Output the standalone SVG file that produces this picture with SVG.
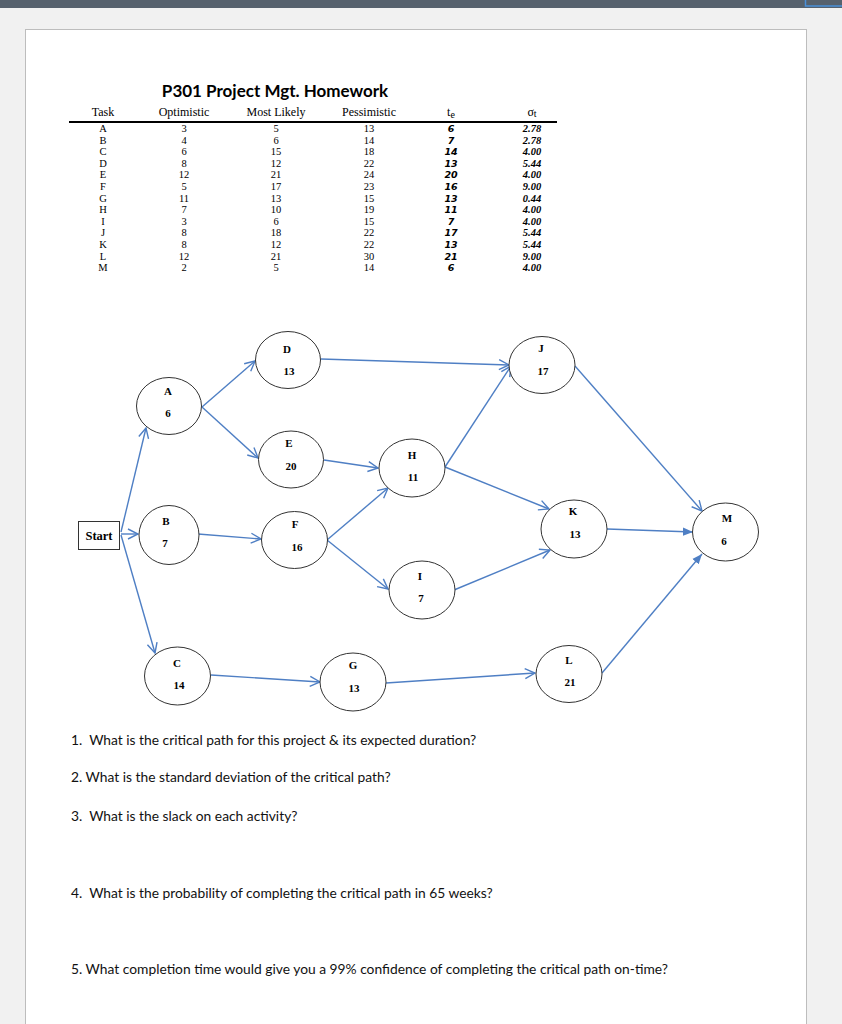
<svg xmlns="http://www.w3.org/2000/svg" width="842" height="1024" viewBox="0 0 842 1024">
<style>
.th{font-family:"Liberation Serif",serif;font-size:12px;fill:#000;text-anchor:middle}
.td{font-family:"Liberation Serif",serif;font-size:10.5px;fill:#000;text-anchor:middle}
.te{font-family:"DejaVu Sans",sans-serif;font-size:9.5px;font-weight:bold;font-style:italic;fill:#000;text-anchor:middle}
.sg{font-family:"Liberation Serif",serif;font-size:10.5px;font-weight:bold;font-style:italic;fill:#000;text-anchor:middle}
.nd{fill:#fff;stroke:#333;stroke-width:1}
.lb{font-family:"Liberation Serif",serif;font-size:11px;font-weight:bold;fill:#000;text-anchor:middle}
.cn{fill:none;stroke:#4f7fc4;stroke-width:1.4}
.q{font-family:Lato,"Open Sans",sans-serif;font-size:13.8px;fill:#111}
</style>
<defs>
<marker id="open" viewBox="0 0 12 12" refX="11" refY="6" markerWidth="12" markerHeight="12" markerUnits="userSpaceOnUse" orient="auto">
<path d="M1,1 L11,6 L1,11" fill="none" stroke="#4f7fc4" stroke-width="1.4"/>
</marker>
<marker id="fill" viewBox="0 0 12 12" refX="11" refY="6" markerWidth="11" markerHeight="11" markerUnits="userSpaceOnUse" orient="auto">
<path d="M0,1.5 L11,6 L0,10.5 Z" fill="#4f7fc4"/>
</marker>
</defs>
<rect x="0" y="0" width="842" height="1024" fill="#f1f1f1"/>
<rect x="0" y="0" width="842" height="8" fill="#56616d"/>
<rect x="805.5" y="-1" width="40" height="7" fill="none" stroke="#4a90d9" stroke-width="1.5"/>
<rect x="25.5" y="29.5" width="781" height="1000" fill="#fff" stroke="#bdbdbd" stroke-width="1"/>

<g id="table">
<text x="275" y="97" font-family="Lato,'Open Sans',sans-serif" font-size="17" font-weight="bold" text-anchor="middle" fill="#000">P301 Project Mgt. Homework</text>
<text class="th" x="103" y="116">Task</text>
<text class="th" x="184" y="116">Optimistic</text>
<text class="th" x="276" y="116">Most Likely</text>
<text class="th" x="369" y="116">Pessimistic</text>
<text class="th" x="451" y="116" font-size="14">t<tspan font-size="10" dy="2">e</tspan></text>
<text class="th" x="532" y="116" font-size="14">σ<tspan font-size="10" dy="1">t</tspan></text>
<line x1="69" y1="122" x2="557" y2="122" stroke="#000" stroke-width="2"/>
<g>
<text class="td" x="103" y="132">A</text><text class="td" x="184" y="132">3</text><text class="td" x="276" y="132">5</text><text class="td" x="369" y="132">13</text><text class="te" x="451" y="132">6</text><text class="sg" x="532" y="132">2.78</text>
<text class="td" x="103" y="143.6">B</text><text class="td" x="184" y="143.6">4</text><text class="td" x="276" y="143.6">6</text><text class="td" x="369" y="143.6">14</text><text class="te" x="451" y="143.6">7</text><text class="sg" x="532" y="143.6">2.78</text>
<text class="td" x="103" y="155.2">C</text><text class="td" x="184" y="155.2">6</text><text class="td" x="276" y="155.2">15</text><text class="td" x="369" y="155.2">18</text><text class="te" x="451" y="155.2">14</text><text class="sg" x="532" y="155.2">4.00</text>
<text class="td" x="103" y="166.8">D</text><text class="td" x="184" y="166.8">8</text><text class="td" x="276" y="166.8">12</text><text class="td" x="369" y="166.8">22</text><text class="te" x="451" y="166.8">13</text><text class="sg" x="532" y="166.8">5.44</text>
<text class="td" x="103" y="178.4">E</text><text class="td" x="184" y="178.4">12</text><text class="td" x="276" y="178.4">21</text><text class="td" x="369" y="178.4">24</text><text class="te" x="451" y="178.4">20</text><text class="sg" x="532" y="178.4">4.00</text>
<text class="td" x="103" y="190">F</text><text class="td" x="184" y="190">5</text><text class="td" x="276" y="190">17</text><text class="td" x="369" y="190">23</text><text class="te" x="451" y="190">16</text><text class="sg" x="532" y="190">9.00</text>
<text class="td" x="103" y="201.6">G</text><text class="td" x="184" y="201.6">11</text><text class="td" x="276" y="201.6">13</text><text class="td" x="369" y="201.6">15</text><text class="te" x="451" y="201.6">13</text><text class="sg" x="532" y="201.6">0.44</text>
<text class="td" x="103" y="213.2">H</text><text class="td" x="184" y="213.2">7</text><text class="td" x="276" y="213.2">10</text><text class="td" x="369" y="213.2">19</text><text class="te" x="451" y="213.2">11</text><text class="sg" x="532" y="213.2">4.00</text>
<text class="td" x="103" y="224.8">I</text><text class="td" x="184" y="224.8">3</text><text class="td" x="276" y="224.8">6</text><text class="td" x="369" y="224.8">15</text><text class="te" x="451" y="224.8">7</text><text class="sg" x="532" y="224.8">4.00</text>
<text class="td" x="103" y="236.4">J</text><text class="td" x="184" y="236.4">8</text><text class="td" x="276" y="236.4">18</text><text class="td" x="369" y="236.4">22</text><text class="te" x="451" y="236.4">17</text><text class="sg" x="532" y="236.4">5.44</text>
<text class="td" x="103" y="248">K</text><text class="td" x="184" y="248">8</text><text class="td" x="276" y="248">12</text><text class="td" x="369" y="248">22</text><text class="te" x="451" y="248">13</text><text class="sg" x="532" y="248">5.44</text>
<text class="td" x="103" y="259.6">L</text><text class="td" x="184" y="259.6">12</text><text class="td" x="276" y="259.6">21</text><text class="td" x="369" y="259.6">30</text><text class="te" x="451" y="259.6">21</text><text class="sg" x="532" y="259.6">9.00</text>
<text class="td" x="103" y="271.2">M</text><text class="td" x="184" y="271.2">2</text><text class="td" x="276" y="271.2">5</text><text class="td" x="369" y="271.2">14</text><text class="te" x="451" y="271.2">6</text><text class="sg" x="532" y="271.2">4.00</text>
</g>
</g>

<g id="connectors">
<line class="cn" x1="121" y1="532" x2="146" y2="428" marker-end="url(#open)"/>
<line class="cn" x1="121" y1="534" x2="138" y2="534" marker-end="url(#open)"/>
<line class="cn" x1="121" y1="535" x2="155" y2="653" marker-end="url(#open)"/>
<line class="cn" x1="202" y1="407" x2="255" y2="361" marker-end="url(#open)"/>
<line class="cn" x1="202" y1="407" x2="258" y2="458" marker-end="url(#open)"/>
<line class="cn" x1="321" y1="359" x2="509" y2="365" marker-end="url(#open)"/>
<line class="cn" x1="324" y1="460" x2="378" y2="468" marker-end="url(#open)"/>
<line class="cn" x1="198" y1="534" x2="261" y2="539" marker-end="url(#open)"/>
<line class="cn" x1="327" y1="540" x2="388" y2="488" marker-end="url(#open)"/>
<line class="cn" x1="327" y1="540" x2="388" y2="589" marker-end="url(#open)"/>
<line class="cn" x1="445" y1="467" x2="511" y2="366" marker-end="url(#open)"/>
<line class="cn" x1="445" y1="467" x2="549" y2="509" marker-end="url(#open)"/>
<line class="cn" x1="575" y1="366" x2="702" y2="511" marker-end="url(#open)"/>
<line class="cn" x1="454" y1="590" x2="550" y2="550" marker-end="url(#open)"/>
<line class="cn" x1="607" y1="529" x2="693" y2="532" marker-end="url(#fill)"/>
<line class="cn" x1="602" y1="673" x2="702" y2="554" marker-end="url(#fill)"/>
<line class="cn" x1="211" y1="675" x2="320" y2="682" marker-end="url(#open)"/>
<line class="cn" x1="386" y1="683" x2="535" y2="673" marker-end="url(#open)"/>
</g>

<g id="start"><rect x="78.5" y="521.5" width="41" height="28" fill="#fff" stroke="#333" stroke-width="1"/><text x="99" y="539.5" font-family="'Liberation Serif',serif" font-size="12.5" font-weight="bold" text-anchor="middle">Start</text></g>
<g id="A"><ellipse class="nd" cx="169" cy="406" rx="32.5" ry="28.5"/><text class="lb" x="168" y="395">A</text><text class="lb" x="168" y="416.5">6</text></g>
<g id="D"><ellipse class="nd" cx="288" cy="360" rx="32.5" ry="28.5"/><text class="lb" x="287" y="353">D</text><text class="lb" x="289" y="375">13</text></g>
<g id="E"><ellipse class="nd" cx="291" cy="459.5" rx="32.5" ry="28.5"/><text class="lb" x="289" y="447">E</text><text class="lb" x="291" y="470">20</text></g>
<g id="H"><ellipse class="nd" cx="412" cy="468" rx="33" ry="29"/><text class="lb" x="412" y="459">H</text><text class="lb" x="413" y="481">11</text></g>
<g id="J"><ellipse class="nd" cx="542" cy="365" rx="33" ry="28.5"/><text class="lb" x="541" y="352">J</text><text class="lb" x="543" y="375">17</text></g>
<g id="K"><ellipse class="nd" cx="574" cy="529" rx="33" ry="29"/><text class="lb" x="573" y="515">K</text><text class="lb" x="575" y="538">13</text></g>
<g id="M"><ellipse class="nd" cx="725.5" cy="532" rx="33" ry="29"/><text class="lb" x="727" y="522">M</text><text class="lb" x="724" y="545">6</text></g>
<g id="B"><ellipse class="nd" cx="169" cy="535" rx="30" ry="29.5"/><text class="lb" x="166" y="525">B</text><text class="lb" x="165" y="547">7</text></g>
<g id="F"><ellipse class="nd" cx="294.5" cy="540" rx="33" ry="28.5"/><text class="lb" x="295" y="528">F</text><text class="lb" x="297" y="551">16</text></g>
<g id="I"><ellipse class="nd" cx="422" cy="590" rx="33" ry="29"/><text class="lb" x="420" y="580">I</text><text class="lb" x="421" y="602">7</text></g>
<g id="C"><ellipse class="nd" cx="177.5" cy="676" rx="33" ry="29"/><text class="lb" x="177" y="667">C</text><text class="lb" x="179" y="689">14</text></g>
<g id="G"><ellipse class="nd" cx="353" cy="682" rx="33" ry="29"/><text class="lb" x="353" y="669">G</text><text class="lb" x="354" y="692">13</text></g>
<g id="L"><ellipse class="nd" cx="569" cy="674" rx="33" ry="28.5"/><text class="lb" x="569" y="664">L</text><text class="lb" x="570" y="686">21</text></g>

<g id="questions">
<text class="q" x="71" y="745" xml:space="preserve">1.  What is the critical path for this project &amp; its expected duration?</text>
<text class="q" x="71" y="782">2. What is the standard deviation of the critical path?</text>
<text class="q" x="71" y="821" xml:space="preserve">3.  What is the slack on each activity?</text>
<text class="q" x="71" y="898" xml:space="preserve">4.  What is the probability of completing the critical path in 65 weeks?</text>
<text class="q" x="71" y="974">5. What completion time would give you a 99% confidence of completing the critical path on-time?</text>
</g>
</svg>
